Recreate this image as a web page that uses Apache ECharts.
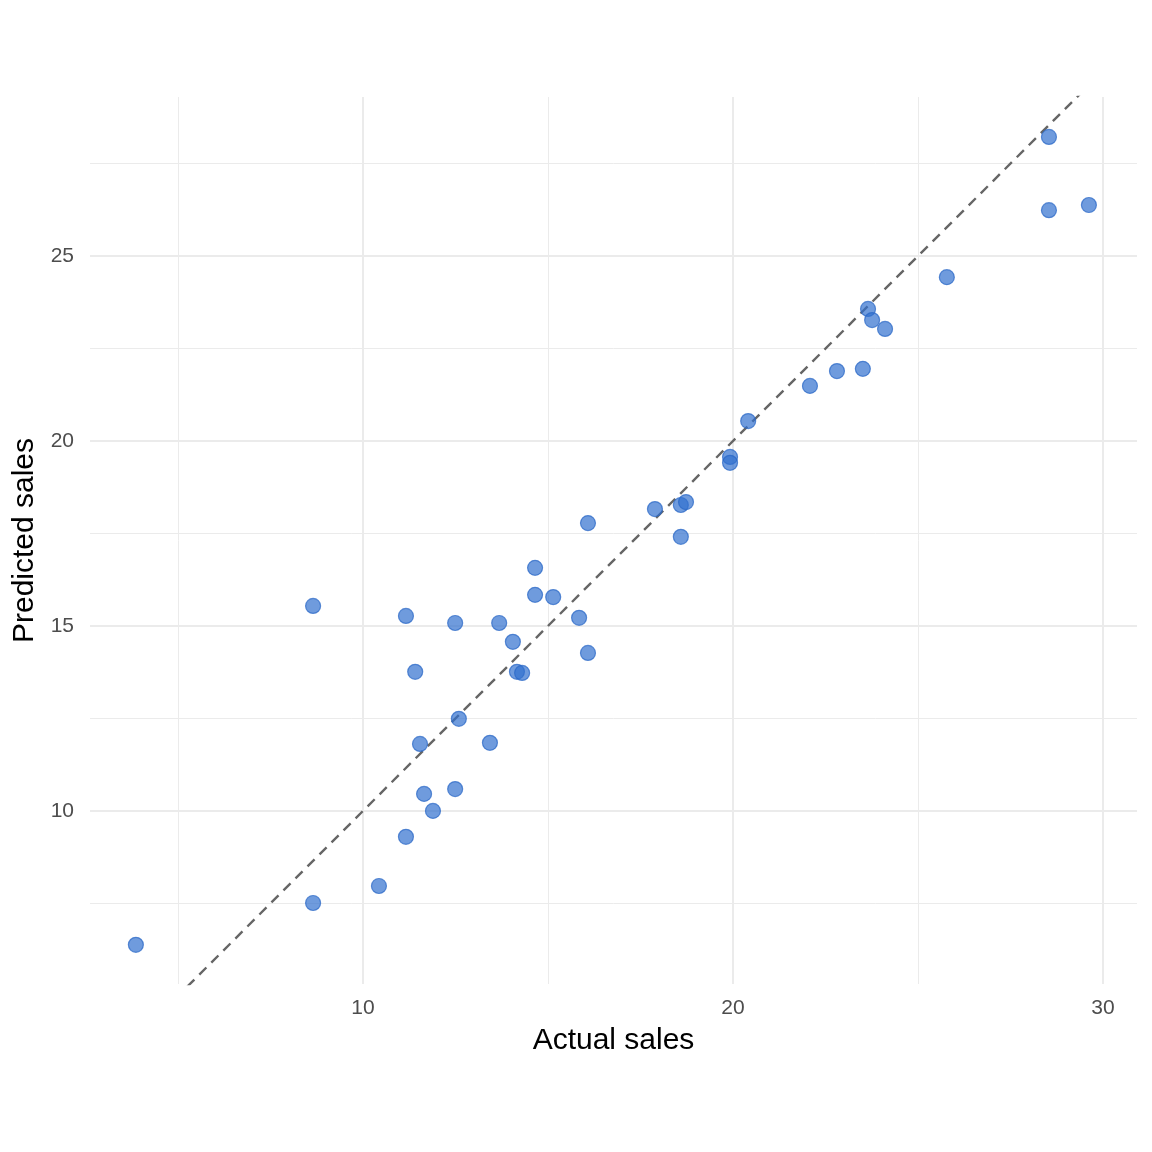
<!DOCTYPE html>
<html>
<head>
<meta charset="utf-8">
<script src="https://cdn.jsdelivr.net/npm/echarts@6/dist/echarts.min.js"></script>
<style>
	html, body { margin: 0; padding: 0; background: #fff; }
	#chart { width: 1152px; height: 1152px; }
</style>
</head>
<body>
<div id="chart"></div>
<script>
// actual vs predicted sales
const actual = [
	3.86, 8.65, 8.65, 10.43, 11.16, 11.16, 11.41, 11.54, 11.65, 11.89,
	12.49, 12.49, 12.59, 13.43, 13.68, 14.05, 14.16, 14.30, 14.65, 14.65,
	15.14, 15.84, 16.08, 16.08, 17.89, 18.59, 18.73, 18.59, 19.92, 19.92,
	20.41, 22.08, 22.81, 23.51, 23.65, 23.76, 24.11, 25.78, 28.54, 28.54,
	29.62
];
const predicted = [
	6.38, 15.54, 7.51, 7.97, 15.27, 9.30, 13.76, 11.81, 10.46, 10.00,
	15.08, 10.59, 12.49, 11.84, 15.08, 14.57, 13.76, 13.73, 16.57, 15.84,
	15.78, 15.22, 17.78, 14.27, 18.16, 18.27, 18.35, 17.41, 19.57, 19.41,
	20.54, 21.49, 21.89, 21.95, 23.57, 23.27, 23.03, 24.43, 28.22, 26.24,
	26.38
];
const xRange = [2.62, 30.92];
const yRange = [5.32, 29.3];
const xMajor = [10, 20, 30];
const xMinor = [5, 15, 25];
const yMajor = [10, 15, 20, 25];
const yMinor = [7.5, 12.5, 17.5, 22.5, 27.5];
// identity reference line y = x
const refLine = [[2, 2], [31, 31]];

const font = "'Liberation Sans', Arial, sans-serif";
const gridColor = '#ebebeb';

function axisPair(dim, range, major, minor, title) {
	const isX = dim === 'x';
	const base = {
		type: 'value',
		min: range[0],
		max: range[1],
		axisLine: {show: false},
		axisTick: {show: false}
	};
	return [
		Object.assign({}, base, {
			name: title,
			nameLocation: 'middle',
			nameGap: isX ? 42 : 45,
			nameRotate: isX ? 0 : 90,
			nameTextStyle: {color: '#000', fontSize: 30, fontFamily: font},
			axisTick: {show: false, customValues: major},
			axisLabel: {
				customValues: major, color: '#4d4d4d', fontSize: 21,
				fontFamily: font, margin: isX ? 14 : 16
			},
			splitLine: {show: true, lineStyle: {color: gridColor, width: 2}}
		}),
		Object.assign({}, base, {
			axisTick: {show: false, customValues: minor},
			axisLabel: {show: false},
			splitLine: {show: true, lineStyle: {color: gridColor, width: 1}}
		})
	];
}

const chart = echarts.init(document.getElementById('chart'));
chart.setOption({
	backgroundColor: '#fff',
	animation: false,
	grid: {left: 90, right: 15, top: 97, bottom: 168},
	xAxis: axisPair('x', xRange, xMajor, xMinor, 'Actual sales'),
	yAxis: axisPair('y', yRange, yMajor, yMinor, 'Predicted sales'),
	series: [
		{
			type: 'line',
			data: refLine,
			symbol: 'none',
			clip: true,
			silent: true,
			lineStyle: {color: '#666666', width: 2.4, type: [10, 7]},
			z: 2
		},
		{
			type: 'scatter',
			data: actual.map((a, i) => [a, predicted[i]]),
			symbolSize: 15,
			itemStyle: {
				color: 'rgba(48,112,206,0.87)',
				borderColor: 'rgba(40,102,198,0.9)',
				borderWidth: 1.2
			},
			z: 3
		}
	]
});
</script>
</body>
</html>
